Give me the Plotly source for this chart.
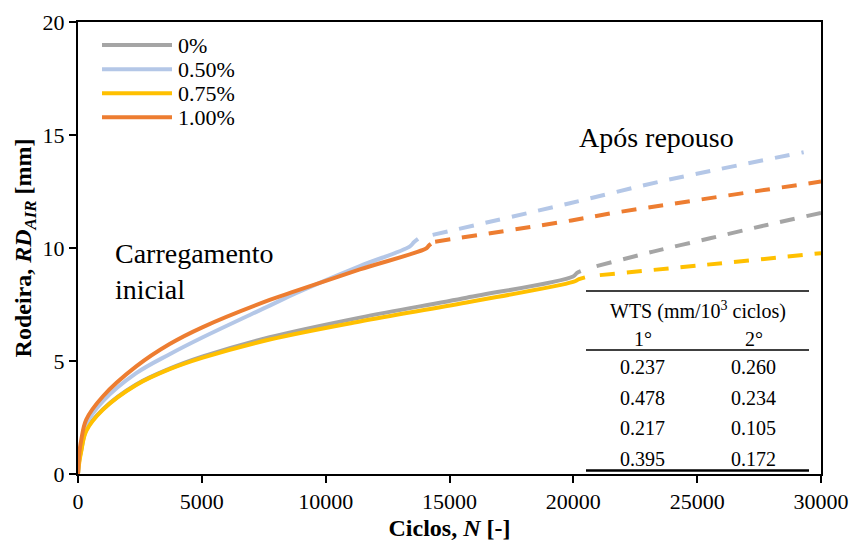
import plotly.graph_objects as go

# ---------------- data ----------------
series_names = ["0%", "0.50%", "0.75%", "1.00%"]
series_colors = ["#A5A5A5", "#B4C7E7", "#FFC000", "#ED7D31"]

# initial loading (solid)
n_init_0 = [0, 50, 130, 330, 1000, 2350, 3700, 5040, 7740, 11380, 15690, 19990, 20150, 20300]
rd_init_0 = [0, 0.6, 1.05, 1.95, 2.86, 3.96, 4.66, 5.2, 6.05, 6.92, 7.8, 8.74, 8.9, 8.98]

n_init_050 = [0, 50, 130, 330, 1000, 2350, 3700, 5040, 7740, 8800, 11380, 13390, 13560, 13730]
rd_init_050 = [0, 0.7, 1.25, 2.2, 3.21, 4.46, 5.3, 6.05, 7.45, 8.0, 9.2, 10.06, 10.25, 10.4]

n_init_075 = [0, 50, 130, 330, 1000, 2350, 3700, 5040, 7740, 11380, 15690, 19990, 20230, 20470]
rd_init_075 = [0, 0.5, 1.0, 1.9, 2.84, 3.94, 4.64, 5.15, 5.95, 6.75, 7.59, 8.5, 8.62, 8.7]

n_init_100 = [0, 50, 130, 330, 1000, 2350, 3700, 5040, 7740, 8800, 11380, 14070, 14160, 14250]
rd_init_100 = [0, 0.9, 1.5, 2.4, 3.43, 4.76, 5.75, 6.5, 7.7, 8.1, 9.05, 9.99, 10.1, 10.18]

# after rest (dashed)
n_rest_0 = [20940, 23220, 25520, 27810, 30000]
rd_rest_0 = [9.2, 9.84, 10.43, 11.02, 11.55]

n_rest_050 = [14320, 19860, 23500, 29300]
rd_rest_050 = [10.58, 11.98, 12.94, 14.24]

n_rest_075 = [21070, 25000, 30000]
rd_rest_075 = [8.8, 9.22, 9.77]

n_rest_100 = [14420, 19925, 21610, 30000]
rd_rest_100 = [10.28, 11.22, 11.55, 12.94]

# WTS table
wts_first = ["0.237", "0.478", "0.217", "0.395"]
wts_second = ["0.260", "0.234", "0.105", "0.172"]

x_ticks = [0, 5000, 10000, 15000, 20000, 25000, 30000]
y_ticks = [0, 5, 10, 15, 20]

# ---------------- figure ----------------
FONT = "Liberation Serif"
fig = go.Figure()

init_n = [n_init_0, n_init_050, n_init_075, n_init_100]
init_rd = [rd_init_0, rd_init_050, rd_init_075, rd_init_100]
rest_n = [n_rest_0, n_rest_050, n_rest_075, n_rest_100]
rest_rd = [rd_rest_0, rd_rest_050, rd_rest_075, rd_rest_100]

for i in range(4):
    fig.add_trace(go.Scatter(x=init_n[i], y=init_rd[i], mode="lines",
                             line=dict(color=series_colors[i], width=4,
                                       shape="spline", smoothing=1.0),
                             name=series_names[i], showlegend=False))
for i in range(4):
    fig.add_trace(go.Scatter(x=rest_n[i], y=rest_rd[i], mode="lines",
                             line=dict(color=series_colors[i], width=4, dash="15px,12px",
                                       shape="spline", smoothing=0.8),
                             showlegend=False))

# plot-area geometry helpers (paper coords)
L, R, T, B = 78, 32, 22, 67
W, H = 853, 541
pw, ph = W - L - R, H - T - B
def px(x):
    return (x - L) / pw
def py(y):
    return (H - B - y) / ph

shapes = []
annotations = []

# manual legend
leg_y = [45, 69.3, 93.3, 117.3]
for i in range(4):
    shapes.append(dict(type="line", xref="paper", yref="paper",
                       x0=px(102), x1=px(172), y0=py(leg_y[i]), y1=py(leg_y[i]),
                       line=dict(color=series_colors[i], width=4)))
    annotations.append(dict(xref="paper", yref="paper", x=px(176), y=py(leg_y[i]),
                            text=series_names[i], showarrow=False, xanchor="left",
                            yanchor="middle", font=dict(family=FONT, size=22, color="black")))

# text labels
annotations.append(dict(xref="paper", yref="paper", x=px(113), y=py(271),
                        text="Carregamento<br>inicial", showarrow=False, xanchor="left",
                        yanchor="middle", align="left",
                        font=dict(family=FONT, size=28, color="black")))
annotations.append(dict(xref="paper", yref="paper", x=px(577), y=py(137),
                        text="Após repouso", showarrow=False, xanchor="left",
                        yanchor="middle", font=dict(family=FONT, size=28, color="black")))

# WTS table
for yy, w in [(291, 1.5), (350, 1.5), (470.5, 2.5)]:
    shapes.append(dict(type="line", xref="paper", yref="paper",
                       x0=px(586), x1=px(809), y0=py(yy), y1=py(yy),
                       line=dict(color="black", width=w)))
tfont = dict(family=FONT, size=20, color="black")
annotations.append(dict(xref="paper", yref="paper", x=px(697.5), y=py(310),
                        text="WTS (mm/10<sup>3</sup> ciclos)", showarrow=False,
                        xanchor="center", yanchor="middle", font=tfont))
annotations.append(dict(xref="paper", yref="paper", x=px(643), y=py(339), text="1°",
                        showarrow=False, xanchor="center", yanchor="middle", font=tfont))
annotations.append(dict(xref="paper", yref="paper", x=px(754), y=py(339), text="2°",
                        showarrow=False, xanchor="center", yanchor="middle", font=tfont))
row_y = [367.3, 398.3, 428.3, 459]
for k in range(4):
    annotations.append(dict(xref="paper", yref="paper", x=px(642.5), y=py(row_y[k]),
                            text=wts_first[k], showarrow=False, xanchor="center",
                            yanchor="middle", font=tfont))
    annotations.append(dict(xref="paper", yref="paper", x=px(753.3), y=py(row_y[k]),
                            text=wts_second[k], showarrow=False, xanchor="center",
                            yanchor="middle", font=tfont))

fig.update_layout(
    width=W, height=H,
    margin=dict(l=L, r=R, t=T, b=B, pad=0),
    plot_bgcolor="white", paper_bgcolor="white",
    font=dict(family=FONT, size=22, color="black"),
    showlegend=False,
    shapes=shapes, annotations=annotations,
    xaxis=dict(range=[0, 30000], tickvals=x_ticks, tickformat="d",
               ticks="outside", ticklen=7, tickwidth=1.5, tickcolor="black",
               showline=True, linewidth=2, linecolor="black", mirror=True,
               showgrid=False, zeroline=False, automargin=False,
               tickfont=dict(family=FONT, size=22),
               title=dict(text="<b>Ciclos, <i>N</i> [-]</b>", standoff=8,
                          font=dict(family=FONT, size=24))),
    yaxis=dict(range=[0, 20], tickvals=y_ticks,
               ticks="outside", ticklen=7, tickwidth=1.5, tickcolor="black",
               showline=True, linewidth=2, linecolor="black", mirror=True,
               showgrid=False, zeroline=False, automargin=False,
               tickfont=dict(family=FONT, size=22),
               title=dict(text="<b>Rodeira, <i>RD</i><sub><i>AIR</i></sub> [mm]</b>",
                          standoff=4, font=dict(family=FONT, size=24))),
)

fig.write_html("out.html")
